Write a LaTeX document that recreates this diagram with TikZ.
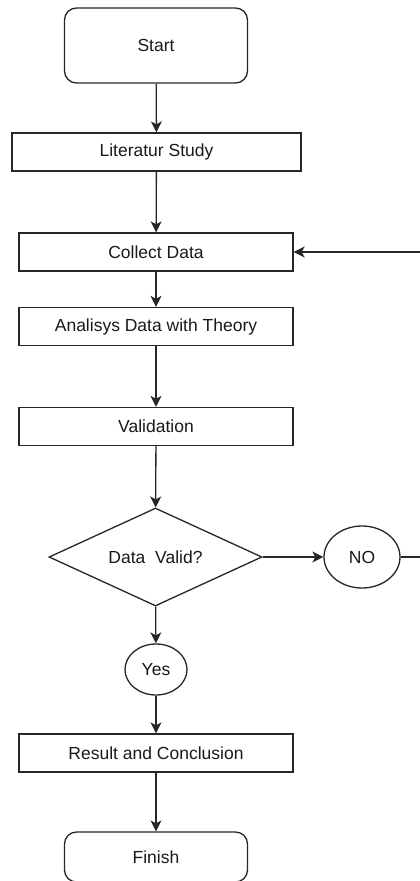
\documentclass[tikz,border=0pt]{standalone}
\usepackage{fontspec}
\setmainfont{Liberation Sans}
\usetikzlibrary{shapes.geometric,arrows.meta}
\begin{document}
\begin{tikzpicture}[x=1pt,y=-1pt,
  every node/.style={font=\fontsize{17.5}{20}\selectfont, text=black!90, draw=black!85, line width=1.3pt, inner sep=0pt},
  proc/.style={rectangle, minimum width=274pt, minimum height=38pt},
  term/.style={rectangle, rounded corners=12pt, minimum width=183pt},
  decis/.style={diamond, minimum width=213pt, minimum height=98pt, aspect=2.17},
  conn/.style={ellipse},
  flow/.style={draw=black!85, line width=1.3pt, -{Stealth[length=11pt,width=11pt,inset=3pt]}},
  plain/.style={draw=black!85, line width=1.3pt}]
\useasboundingbox (0,0) rectangle (420,881);
\clip (0,0) rectangle (420,881);
\node[term, minimum height=75pt] (start) at (156,45.5) {Start};
\node[proc, minimum width=289pt] (lit) at (156.5,152) {Literatur Study};
\node[proc] (col) at (156,252) {Collect Data};
\node[proc] (ana) at (156,326.5) {Analisys Data with Theory};
\node[proc] (val) at (156,426.5) {Validation};
\node[decis] (dec) at (155.5,557) {Data\ \ Valid?};
\node[conn, minimum width=76pt, minimum height=62pt] (no) at (362,557) {NO};
\node[conn, minimum width=62pt, minimum height=51pt] (yes) at (156,669.5) {Yes};
\node[proc] (res) at (156,753) {Result and Conclusion};
\node[term, minimum height=50pt] (fin) at (156,857) {Finish};
\coordinate (r1) at (428,557);
\coordinate (r2) at (428,252);
\draw[flow] (start) -- (lit);
\draw[flow] (lit) -- (col);
\draw[flow] (col) -- (ana);
\draw[flow] (ana) -- (val);
\draw[flow] (val) -- (dec);
\draw[flow] (dec) -- (no);
\draw[flow] (dec) -- (yes);
\draw[flow] (yes) -- (res);
\draw[flow] (res) -- (fin);
\draw[flow] (no.east) -- (r1) -- (r2) -- (col.east);
\end{tikzpicture}
\end{document}
